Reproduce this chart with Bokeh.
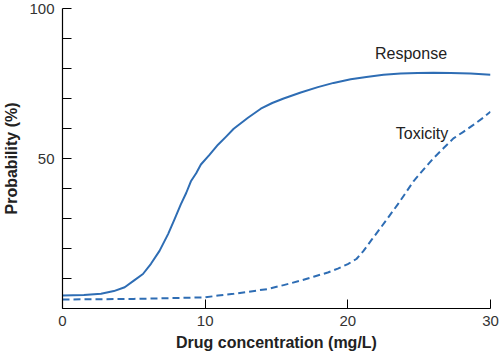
from bokeh.plotting import figure
from bokeh.models import Range1d, FixedTicker, Label
from bokeh.embed import file_html
from bokeh.resources import INLINE

# Data
resp_x = [0, 1.5, 2.7, 3.6, 4.36, 5.0, 5.64, 6.2, 6.8, 7.4, 7.85, 8.3, 8.67, 9.0, 9.37, 9.7, 10.3, 10.9,
          11.47, 12.0, 13.0, 13.9, 14.7, 15.5, 16.7, 17.9, 19.0, 20.2, 21.3, 22.5, 23.7, 24.9, 26.0, 27.2, 28.6, 30]
resp_y = [4.3, 4.5, 4.9, 5.8, 7.1, 9.3, 11.5, 14.9, 19.2, 24.8, 29.7, 34.8, 38.5, 42.4, 45.1, 48.0, 51.2, 54.6,
          57.3, 59.9, 63.6, 66.6, 68.5, 70.0, 72.0, 73.8, 75.2, 76.4, 77.2, 77.9, 78.3, 78.5, 78.6, 78.5, 78.3, 77.9]
tox_x = [0, 5, 10, 10.9, 12, 14.4, 15.5, 16.7, 17.6, 18.6, 19.3, 20, 20.6, 21.1, 21.7, 22.3, 22.9, 23.5,
         24.05, 24.6, 25.3, 26.0, 26.7, 27.4, 28.1, 28.8, 29.4, 30]
tox_y = [3.0, 3.2, 3.7, 4.3, 4.9, 6.5, 7.8, 9.3, 10.6, 12.0, 13.3, 14.8, 16.5, 19.2, 23.1, 26.9, 30.8, 34.7,
         38.5, 42.4, 46.3, 50.1, 53.4, 56.7, 58.9, 61.2, 63.3, 65.6]
x_ticks = [0, 10, 20, 30]
y_ticks = [0, 10, 20, 30, 40, 50, 60, 70, 80, 90, 100]
y_labels = {0: "", 10: "", 20: "", 30: "", 40: "", 50: "50", 60: "", 70: "", 80: "", 90: "", 100: "100"}

FONT = "Liberation Sans"
BLUE = "#2e6db4"

p = figure(width=500, height=354, output_backend="svg", toolbar_location=None,
           x_range=Range1d(0, 30), y_range=Range1d(0, 100),
           min_border_left=61, min_border_right=10, min_border_top=8, min_border_bottom=46)
p.outline_line_color = None
p.xgrid.grid_line_color = None
p.ygrid.grid_line_color = None
p.background_fill_color = "white"
p.border_fill_color = "white"

p.line(resp_x, resp_y, line_color=BLUE, line_width=2, line_join="round")
p.line(tox_x, tox_y, line_color=BLUE, line_width=2, line_dash="7 4", line_join="round")

for ax in (p.xaxis[0], p.yaxis[0]):
    ax.axis_line_color = "black"
    ax.axis_line_width = 1.2
    ax.major_tick_line_color = "black"
    ax.major_tick_in = 9
    ax.major_tick_out = 0
    ax.minor_tick_line_color = None
    ax.major_label_text_font = FONT
    ax.major_label_text_font_size = "15px"
    ax.major_label_text_color = "#333333"
    ax.axis_label_text_font = FONT
    ax.axis_label_text_font_size = "16px"
    ax.axis_label_text_font_style = "bold"
    ax.axis_label_text_color = "#222222"

p.xaxis.ticker = FixedTicker(ticks=x_ticks)
p.xaxis.axis_label = "Drug concentration (mg/L)"
p.xaxis.major_label_standoff = 7
p.xaxis.axis_label_standoff = 5

p.yaxis.ticker = FixedTicker(ticks=y_ticks)
p.yaxis.major_label_overrides = y_labels
p.yaxis.axis_label = "Probability (%)"
p.yaxis.major_label_standoff = 8
p.yaxis.axis_label_standoff = 6

p.add_layout(Label(x=24.43, y=84.9, text="Response", text_align="center", text_baseline="middle",
                   text_font=FONT, text_font_size="16px", text_color="#222222"))
p.add_layout(Label(x=25.2, y=58.3, text="Toxicity", text_align="center", text_baseline="middle",
                   text_font=FONT, text_font_size="16px", text_color="#222222"))

open("out.html", "w").write(file_html(p, INLINE))
